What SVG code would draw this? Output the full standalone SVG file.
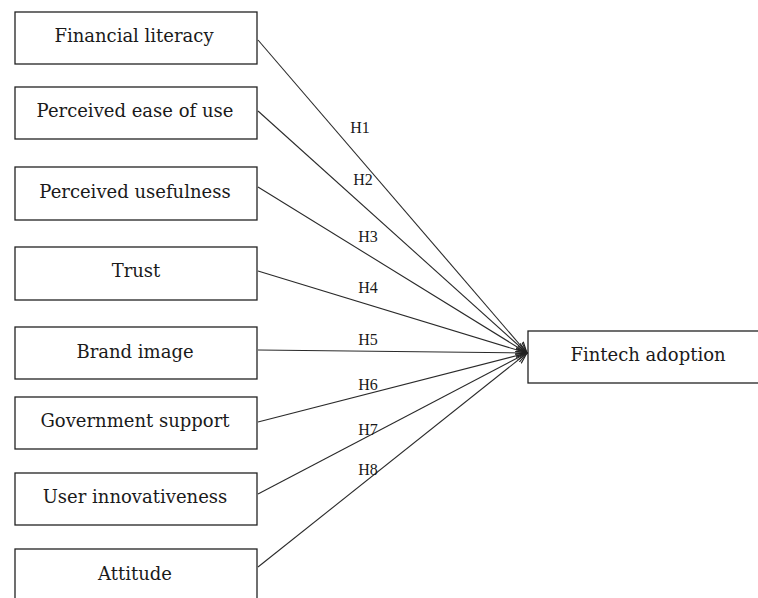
<svg xmlns="http://www.w3.org/2000/svg" width="758" height="598" viewBox="0 0 758 598">
<style>
.box{fill:#fff;stroke:#222;stroke-width:1.3}
.t{font-family:"DejaVu Serif","Liberation Serif",serif;font-size:18px;fill:#1a1a1a;text-anchor:middle}
.h{font-family:"Liberation Serif","DejaVu Serif",serif;font-size:16px;fill:#1a1a1a;text-anchor:middle}
.c{stroke:#2a2a2a;stroke-width:1.1;fill:none;marker-end:url(#arr)}
</style>
<defs>
<marker id="arr" viewBox="0 0 12 10" refX="11" refY="5" markerWidth="12" markerHeight="10" markerUnits="userSpaceOnUse" orient="auto">
<path d="M0,0.5 L11,5 L0,9.5" fill="none" stroke="#222" stroke-width="1.1"/>
</marker>
</defs>
<rect width="758" height="598" fill="#fff"/>
<g id="connectors">
<line class="c" x1="258" y1="40" x2="527" y2="353"/>
<line class="c" x1="258" y1="111" x2="527" y2="353"/>
<line class="c" x1="258" y1="187" x2="527" y2="353"/>
<line class="c" x1="258" y1="271" x2="527" y2="353"/>
<line class="c" x1="258" y1="350" x2="527" y2="353"/>
<line class="c" x1="258" y1="422" x2="527" y2="353"/>
<line class="c" x1="258" y1="494" x2="527" y2="353"/>
<line class="c" x1="258" y1="567" x2="527" y2="353"/>
<text class="h" x="360" y="133">H1</text>
<text class="h" x="363" y="185">H2</text>
<text class="h" x="368" y="242">H3</text>
<text class="h" x="368" y="293">H4</text>
<text class="h" x="368" y="345">H5</text>
<text class="h" x="368" y="390">H6</text>
<text class="h" x="368" y="435">H7</text>
<text class="h" x="368" y="475">H8</text>
</g>
<g id="n1"><rect class="box" x="15" y="12" width="242" height="52"/><text class="t" x="134" y="42">Financial literacy</text></g>
<g id="n2"><rect class="box" x="15" y="87" width="242" height="52"/><text class="t" x="135" y="117">Perceived ease of use</text></g>
<g id="n3"><rect class="box" x="15" y="167" width="242" height="53"/><text class="t" x="135" y="198">Perceived usefulness</text></g>
<g id="n4"><rect class="box" x="15" y="247" width="242" height="53"/><text class="t" x="136" y="277">Trust</text></g>
<g id="n5"><rect class="box" x="15" y="327" width="242" height="52"/><text class="t" x="135" y="358">Brand image</text></g>
<g id="n6"><rect class="box" x="15" y="397" width="242" height="52"/><text class="t" x="135" y="427">Government support</text></g>
<g id="n7"><rect class="box" x="15" y="473" width="242" height="52"/><text class="t" x="135" y="503">User innovativeness</text></g>
<g id="n8"><rect class="box" x="15" y="549" width="242" height="53"/><text class="t" x="135" y="580">Attitude</text></g>
<g id="n9"><rect class="box" x="528" y="331" width="241" height="52"/><text class="t" x="648" y="361">Fintech adoption</text></g>
</svg>
